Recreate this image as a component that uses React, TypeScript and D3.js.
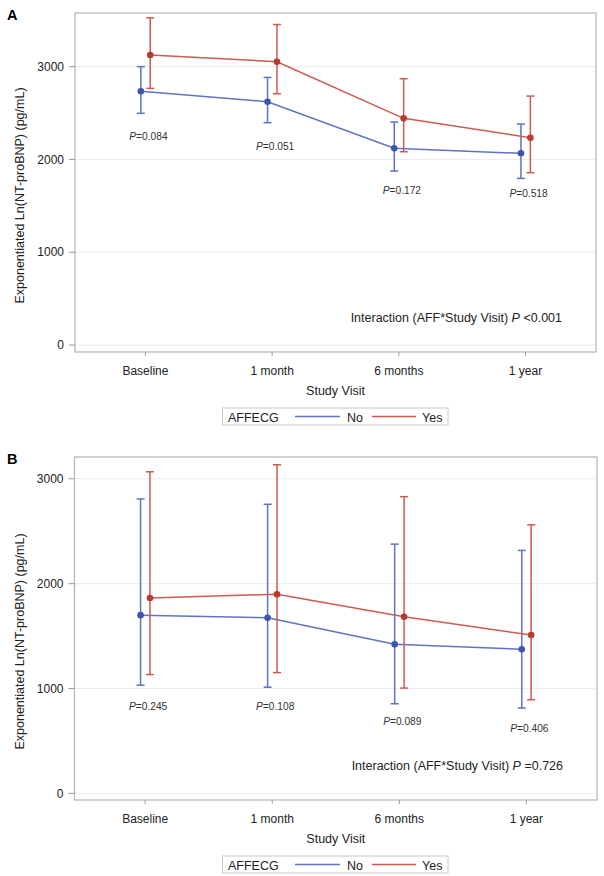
import React from "react";
import * as d3 from "d3";

const categories = ["Baseline", "1 month", "6 months", "1 year"];
const groupNames = ["No", "Yes"];
const yTicks = [0, 1000, 2000, 3000];

// Panel A
const aNoMean = [2734, 2622, 2120, 2066];
const aNoLower = [2497, 2396, 1875, 1796];
const aNoUpper = [3000, 2884, 2403, 2381];
const aYesMean = [3125, 3053, 2443, 2234];
const aYesLower = [2766, 2708, 2083, 1857];
const aYesUpper = [3527, 3454, 2870, 2683];
const aPValues = ["0.084", "0.051", "0.172", "0.518"];
const aPLabelAt = [2210, 2102, 1628, 1599];
const aInteraction = "<0.001";
const aDomain = [-75, 3578];

// Panel B
const bNoMean = [1700, 1674, 1422, 1374];
const bNoLower = [1032, 1013, 855, 814];
const bNoUpper = [2808, 2757, 2377, 2317];
const bYesMean = [1864, 1899, 1684, 1510];
const bYesLower = [1133, 1152, 1004, 893];
const bYesUpper = [3067, 3134, 2830, 2561];
const bPValues = ["0.245", "0.108", "0.089", "0.406"];
const bPLabelAt = [795, 795, 652, 588];
const bInteraction = "=0.726";
const bDomain = [-63, 3208];

const FONT = "'Liberation Sans', Arial, Helvetica, sans-serif";
const BLUE_LINE = "#5f72c4";
const BLUE_MARK = "#3b56ae";
const RED_LINE = "#cf5a50";
const RED_MARK = "#b83a2e";

type Series = { mean: number[]; lower: number[]; upper: number[]; line: string; mark: string; dx: number };

function Panel(props: {
  letter: string;
  top: number;
  bottom: number;
  left: number;
  right: number;
  domain: number[];
  series: Series[];
  pValues: string[];
  pAt: number[];
  interaction: string;
}) {
  const { letter, top, bottom, left, right, domain, series, pValues, pAt, interaction } = props;
  const x = d3.scalePoint<string>().domain(categories).range([left, right]).padding(0.556);
  const y = d3.scaleLinear().domain(domain).range([bottom, top]);
  const midX = (left + right) / 2;
  const midY = (top + bottom) / 2;
  const lineGen = d3
    .line<number>()
    .x((_, i) => 0)
    .y((d) => y(d));

  return (
    <g>
      <text x={7} y={top + 6.5} fontFamily={FONT} fontSize={14.5} fontWeight="bold" fill="#000">
        {letter}
      </text>
      {/* gridlines */}
      {yTicks.map((t) => (
        <line key={"g" + t} x1={left} x2={right} y1={y(t)} y2={y(t)} stroke="#e9edf1" strokeWidth={1} />
      ))}
      {/* frame */}
      <rect x={left} y={top} width={right - left} height={bottom - top} fill="none" stroke="#b4b4b4" strokeWidth={1.2} />
      {/* y ticks */}
      {yTicks.map((t) => (
        <g key={"yt" + t}>
          <line x1={left - 6} x2={left} y1={y(t)} y2={y(t)} stroke="#999" strokeWidth={1} />
          <text x={left - 11} y={y(t) + 4.2} textAnchor="end" fontFamily={FONT} fontSize={12} fill="#222">
            {t}
          </text>
        </g>
      ))}
      {/* x ticks */}
      {categories.map((c) => (
        <g key={"xt" + c}>
          <line x1={x(c)!} x2={x(c)!} y1={bottom} y2={bottom + 4} stroke="#999" strokeWidth={1} />
          <text x={x(c)!} y={bottom + 22.5} textAnchor="middle" fontFamily={FONT} fontSize={12} fill="#222">
            {c}
          </text>
        </g>
      ))}
      <text x={midX} y={bottom + 42.5} textAnchor="middle" fontFamily={FONT} fontSize={12.5} fill="#222">
        Study Visit
      </text>
      <text
        transform={`translate(23.5, ${midY + 13}) rotate(-90)`}
        textAnchor="middle"
        fontFamily={FONT}
        fontSize={12.5}
        fill="#222"
      >
        Exponentiated Ln(NT-proBNP) (pg/mL)
      </text>
      {/* series */}
      {series.map((s, si) => {
        const pts = s.mean.map((m, i) => [x(categories[i])! + s.dx, y(m)] as [number, number]);
        const path = d3.line()(pts);
        return (
          <g key={"s" + si}>
            <path d={path!} fill="none" stroke={s.line} strokeWidth={1.5} />
            {s.mean.map((m, i) => {
              const cx = x(categories[i])! + s.dx;
              return (
                <g key={"e" + i}>
                  <line x1={cx} x2={cx} y1={y(s.lower[i])} y2={y(s.upper[i])} stroke={s.line} strokeWidth={1.5} />
                  <line x1={cx - 4} x2={cx + 4} y1={y(s.lower[i])} y2={y(s.lower[i])} stroke={s.line} strokeWidth={1.5} />
                  <line x1={cx - 4} x2={cx + 4} y1={y(s.upper[i])} y2={y(s.upper[i])} stroke={s.line} strokeWidth={1.5} />
                  <circle cx={cx} cy={y(m)} r={3.3} fill={s.mark} />
                </g>
              );
            })}
          </g>
        );
      })}
      {/* p labels */}
      {pValues.map((p, i) => (
        <text
          key={"p" + i}
          x={x(categories[i])! + 3}
          y={y(pAt[i])}
          textAnchor="middle"
          fontFamily={FONT}
          fontSize={10.2}
          fill="#333"
        >
          <tspan fontStyle="italic">P</tspan>
          <tspan>={p}</tspan>
        </text>
      ))}
      <text x={right - 34} y={bottom - 30} textAnchor="end" fontFamily={FONT} fontSize={12.5} fill="#222">
        <tspan>Interaction (AFF*Study Visit) </tspan>
        <tspan fontStyle="italic">P</tspan>
        <tspan> {interaction}</tspan>
      </text>
      {/* legend */}
      <g>
        <rect x={222.5} y={bottom + 56} width={225.5} height={17} fill="#fff" stroke="#c8c8c8" strokeWidth={1} />
        <text x={228} y={bottom + 69.5} fontFamily={FONT} fontSize={12.5} fill="#222">
          AFFECG
        </text>
        <line x1={295} x2={340} y1={bottom + 64.5} y2={bottom + 64.5} stroke={BLUE_LINE} strokeWidth={1.5} />
        <text x={347} y={bottom + 69.5} fontFamily={FONT} fontSize={12.5} fill="#222">
          {groupNames[0]}
        </text>
        <line x1={372} x2={416} y1={bottom + 64.5} y2={bottom + 64.5} stroke={RED_LINE} strokeWidth={1.5} />
        <text x={422} y={bottom + 69.5} fontFamily={FONT} fontSize={12.5} fill="#222">
          {groupNames[1]}
        </text>
      </g>
    </g>
  );
}

export default function App() {
  const seriesA: Series[] = [
    { mean: aNoMean, lower: aNoLower, upper: aNoUpper, line: BLUE_LINE, mark: BLUE_MARK, dx: -4.6 },
    { mean: aYesMean, lower: aYesLower, upper: aYesUpper, line: RED_LINE, mark: RED_MARK, dx: 4.8 },
  ];
  const seriesB: Series[] = [
    { mean: bNoMean, lower: bNoLower, upper: bNoUpper, line: BLUE_LINE, mark: BLUE_MARK, dx: -4.6 },
    { mean: bYesMean, lower: bYesLower, upper: bYesUpper, line: RED_LINE, mark: RED_MARK, dx: 4.8 },
  ];
  return (
    <svg
      width={604}
      height={876}
      viewBox="0 0 604 876"
      style={{ position: "absolute", left: 0, top: 0, background: "#fff" }}
    >
      <rect width={604} height={876} fill="#fff" />
      <Panel
        letter="A"
        top={13}
        bottom={352}
        left={75}
        right={596}
        domain={aDomain}
        series={seriesA}
        pValues={aPValues}
        pAt={aPLabelAt}
        interaction={aInteraction}
      />
      <Panel
        letter="B"
        top={457}
        bottom={800}
        left={74.5}
        right={597}
        domain={bDomain}
        series={seriesB}
        pValues={bPValues}
        pAt={bPLabelAt}
        interaction={bInteraction}
      />
    </svg>
  );
}
